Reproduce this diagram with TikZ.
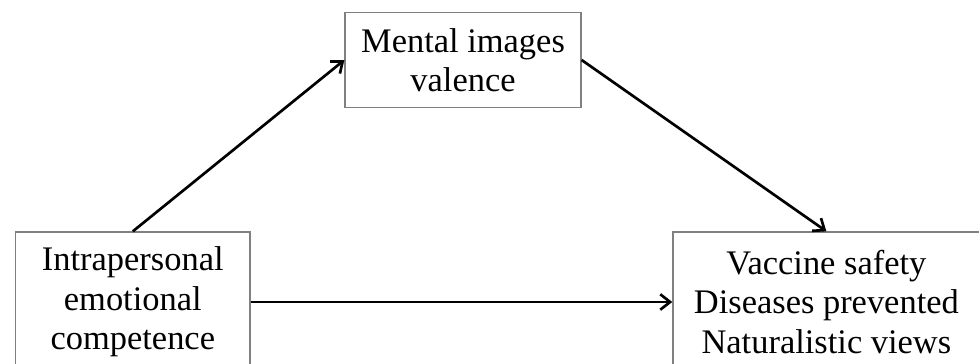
\documentclass[tikz,border=0pt]{standalone}
\usepackage{fontspec}
\setmainfont{Liberation Serif}
\usetikzlibrary{arrows.meta}

\begin{document}
\begin{tikzpicture}
		\tikzset{
			varbox/.style={draw=gray, line width=0.9pt, align=center, inner sep=0pt, font=\fontsize{24.5}{28}\selectfont},
			link/.style={-{Straight Barb[length=7pt, width=11pt]}, line width=1.9pt}
		}
		\useasboundingbox (0, 0) rectangle (24.475, -9.1);
		\clip (0, 0) rectangle (24.475, -9.1);
		
		% Variables
		% Mediator
		\node [varbox, minimum width=5.9cm, minimum height=2.36cm] (mediator) at (11.575, -1.5) {Mental images\\valence};
		
		% Predictor
		\node [varbox, minimum width=5.86cm, minimum height=3.5cm] (predictor) at (3.32, -7.55) {Intrapersonal\\emotional\\competence};
		
		% Outcomes
		\node [varbox, minimum width=7.675cm, minimum height=3.5cm] (outcomes) at (20.66, -7.55) {Vaccine safety\\Diseases prevented\\Naturalistic views};
		
		% Paths
		\draw [link] (predictor.north) -- (mediator.west);
		\draw [link] (mediator.east) -- (outcomes.north);
		\draw [link] (predictor.east) -- (outcomes.west);
		
	\end{tikzpicture}
\end{document}
